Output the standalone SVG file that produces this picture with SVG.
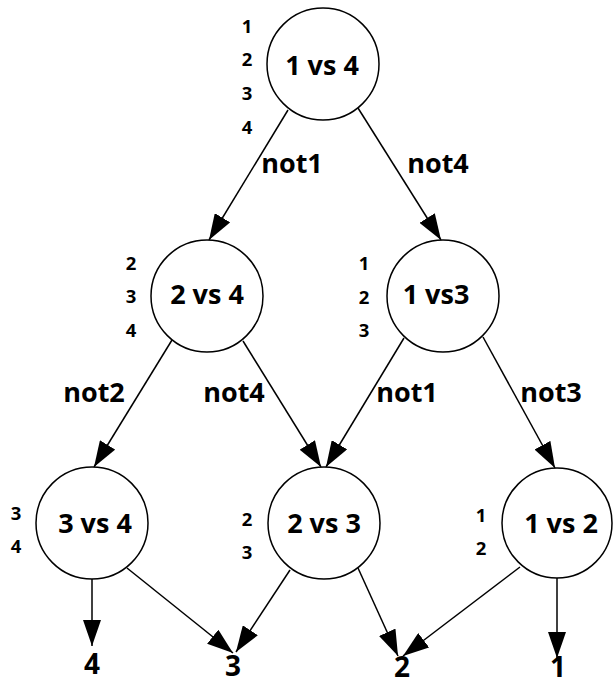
<svg xmlns="http://www.w3.org/2000/svg" width="613" height="685" viewBox="0 0 613 685">
<style>
.node circle{fill:#fff;stroke:#000;stroke-width:1.5}
text{font-family:"Open Sans","Noto Sans","Liberation Sans",sans-serif;font-weight:700;fill:#000;text-anchor:middle}
.nt{font-size:27px}
.sn{font-size:18.5px}
.el{font-size:27px}
.out{font-size:28px}
.edges line{stroke:#000;stroke-width:1.5;marker-end:url(#ah)}
</style>
<defs>
<marker id="ah" markerUnits="userSpaceOnUse" markerWidth="26" markerHeight="18" refX="26" refY="9" orient="auto">
<path d="M0,0 L26,9 L0,18 Z" fill="#000"/>
</marker>
</defs>
<rect width="613" height="685" fill="#fff"/>
<g class="edges" id="connectors">
<line x1="288" y1="110" x2="209" y2="240"/>
<line x1="358" y1="108" x2="441" y2="240"/>
<line x1="172" y1="340" x2="94" y2="467"/>
<line x1="243" y1="341" x2="321" y2="467"/>
<line x1="404" y1="338" x2="326" y2="467"/>
<line x1="483" y1="337" x2="555" y2="468"/>
<line x1="92" y1="579" x2="92" y2="646"/>
<line x1="127" y1="568" x2="233" y2="653"/>
<line x1="290" y1="570" x2="236" y2="652"/>
<line x1="358" y1="568" x2="398" y2="656"/>
<line x1="520" y1="567" x2="403" y2="656"/>
<line x1="557" y1="578" x2="557" y2="658"/>
</g>
<g id="edge-labels">
<text class="el" x="292" y="173">not1</text>
<text class="el" x="438" y="173">not4</text>
<text class="el" x="94" y="402">not2</text>
<text class="el" x="234" y="402">not4</text>
<text class="el" x="407" y="402">not1</text>
<text class="el" x="551" y="402">not3</text>
</g>
<g class="node" id="n1v4">
<circle cx="323" cy="64" r="56"/>
<text class="nt" x="322" y="75">1 vs 4</text>
<text class="sn" x="247" y="33">1</text>
<text class="sn" x="247" y="66">2</text>
<text class="sn" x="247" y="100">3</text>
<text class="sn" x="247" y="134">4</text>
</g>
<g class="node" id="n2v4">
<circle cx="207" cy="296" r="56"/>
<text class="nt" x="207" y="304">2 vs 4</text>
<text class="sn" x="131" y="270">2</text>
<text class="sn" x="131" y="303">3</text>
<text class="sn" x="131" y="337">4</text>
</g>
<g class="node" id="n1v3">
<circle cx="443" cy="296" r="56"/>
<text class="nt" x="436" y="304">1 vs3</text>
<text class="sn" x="364" y="270">1</text>
<text class="sn" x="364" y="304">2</text>
<text class="sn" x="364" y="337">3</text>
</g>
<g class="node" id="n3v4">
<circle cx="92" cy="523" r="56"/>
<text class="nt" x="95" y="533">3 vs 4</text>
<text class="sn" x="16" y="520">3</text>
<text class="sn" x="16" y="553">4</text>
</g>
<g class="node" id="n2v3">
<circle cx="324" cy="523" r="56"/>
<text class="nt" x="324" y="533">2 vs 3</text>
<text class="sn" x="247" y="526">2</text>
<text class="sn" x="247" y="559">3</text>
</g>
<g class="node" id="n1v2">
<circle cx="557" cy="523" r="55"/>
<text class="nt" x="561" y="533">1 vs 2</text>
<text class="sn" x="481" y="522">1</text>
<text class="sn" x="481" y="555">2</text>
</g>
<g id="outcomes">
<text class="out" x="92" y="674">4</text>
<text class="out" x="233" y="676">3</text>
<text class="out" x="402" y="677">2</text>
<text class="out" x="558" y="677">1</text>
</g>
</svg>
